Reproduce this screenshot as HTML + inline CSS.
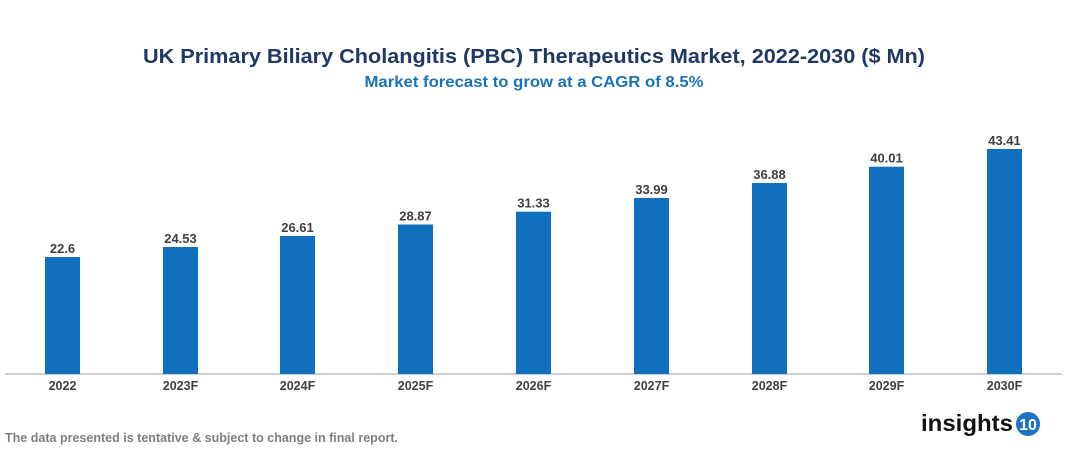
<!DOCTYPE html>
<html><head><meta charset="utf-8"><style>
html,body{margin:0;padding:0;background:#fff;width:1067px;height:454px;overflow:hidden}
svg{display:block;font-family:"Liberation Sans",Arial,sans-serif}
</style></head><body>
<svg width="1067" height="454" viewBox="0 0 1067 454">
<text x="534" y="63" text-anchor="middle" font-size="20" font-weight="bold" fill="#1f3864" textLength="782" lengthAdjust="spacingAndGlyphs">UK Primary Biliary Cholangitis (PBC) Therapeutics Market, 2022-2030 ($ Mn)</text>
<text x="534" y="87" text-anchor="middle" font-size="16" font-weight="bold" fill="#1a73b8" textLength="339" lengthAdjust="spacingAndGlyphs">Market forecast to grow at a CAGR of 8.5%</text>
<line x1="5" y1="374" x2="1062" y2="374" stroke="#bfbfbf" stroke-width="1.5"/>
<g fill="#1070be">
<rect x="45" y="257" width="35" height="117"/>
<rect x="163" y="247" width="35" height="127"/>
<rect x="280" y="236" width="35" height="138"/>
<rect x="398" y="224.5" width="35" height="149.5"/>
<rect x="516" y="211.7" width="35" height="162.3"/>
<rect x="634" y="198" width="35" height="176"/>
<rect x="752" y="183" width="35" height="191"/>
<rect x="869" y="166.7" width="35" height="207.3"/>
<rect x="987" y="149" width="35" height="225"/>
</g>
<g font-size="13" font-weight="bold" fill="#404040" text-anchor="middle">
<text x="62.5" y="253">22.6</text>
<text x="180.5" y="243">24.53</text>
<text x="297.5" y="232">26.61</text>
<text x="415.5" y="220.5">28.87</text>
<text x="533.5" y="207.7">31.33</text>
<text x="651.5" y="194">33.99</text>
<text x="769.5" y="179">36.88</text>
<text x="886.5" y="162.7">40.01</text>
<text x="1004.5" y="145">43.41</text>
</g>
<g font-size="12.5" font-weight="bold" fill="#404040" text-anchor="middle">
<text x="62.5" y="390">2022</text>
<text x="180.5" y="390">2023F</text>
<text x="297.5" y="390">2024F</text>
<text x="415.5" y="390">2025F</text>
<text x="533.5" y="390">2026F</text>
<text x="651.5" y="390">2027F</text>
<text x="769.5" y="390">2028F</text>
<text x="886.5" y="390">2029F</text>
<text x="1004.5" y="390">2030F</text>
</g>
<text x="5" y="442" font-size="12.5" font-weight="bold" fill="#7f7f7f" textLength="393" lengthAdjust="spacingAndGlyphs">The data presented is tentative &amp; subject to change in final report.</text>
<text x="921" y="431" font-size="23" font-weight="bold" fill="#111" textLength="92" lengthAdjust="spacingAndGlyphs">insights</text>
<circle cx="1028" cy="424" r="12" fill="#1a73c4"/>
<text x="1028" y="430" text-anchor="middle" font-size="16" font-weight="bold" fill="#fff">10</text>
</svg>
</body></html>
